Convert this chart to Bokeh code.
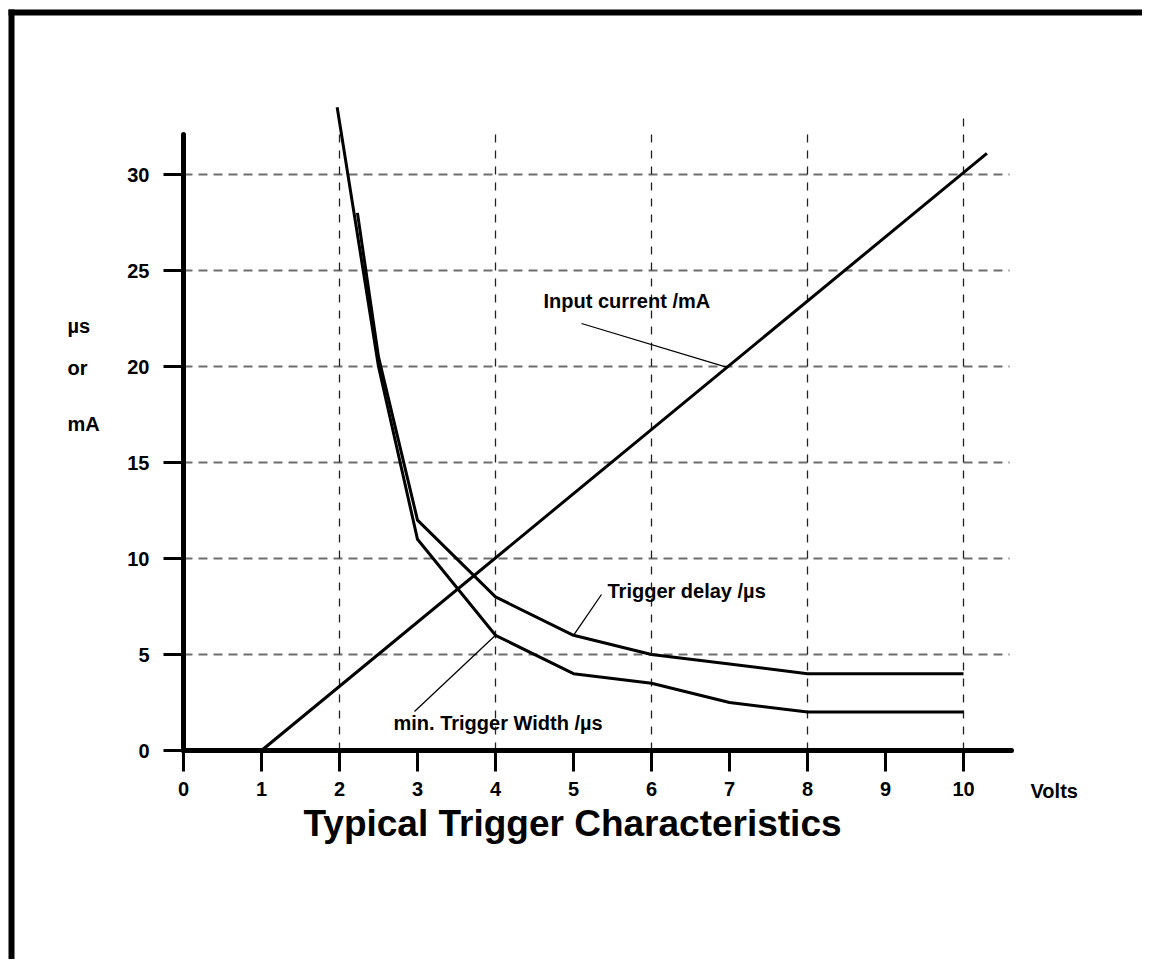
from bokeh.plotting import figure
from bokeh.models import Range1d, FixedTicker, Label
from bokeh.embed import file_html
from bokeh.resources import INLINE

# ---------------- data ----------------
volts_ticks = [0, 1, 2, 3, 4, 5, 6, 7, 8, 9, 10]
y_ticks = [0, 5, 10, 15, 20, 25, 30]

input_current_v = [1.0, 10.3]
input_current_ma = [0.0, 31.1]

trigger_delay_v = [2.23, 2.5, 3, 4, 5, 6, 7, 8, 10]
trigger_delay_us = [28.0, 20.5, 12.0, 8.0, 6.0, 5.0, 4.5, 4.0, 4.0]

min_width_v = [1.97, 2.5, 3, 4, 5, 6, 7, 8, 10]
min_width_us = [33.5, 20.0, 11.0, 6.0, 4.0, 3.5, 2.5, 2.0, 2.0]

vgrid_x = [2, 4, 6, 8, 10]
vgrid_top = [32.1, 32.1, 32.1, 32.1, 33.0]
hgrid_y = [5, 10, 15, 20, 25, 30]
hgrid_right = 10.59

series_labels = ["Input current /mA", "Trigger delay /µs", "min. Trigger Width /µs"]
y_title_lines = ["µs", "or", "mA"]
x_title = "Volts"
chart_title = "Typical Trigger Characteristics"

FONT = "Liberation Sans"

# ---------------- layout helpers (pixel -> data) ----------------
W, H = 1142, 959
X0_PX, PX_PER_X = 183.0, 78.0
Y0_PX, PX_PER_Y = 750.0, 19.2


def dx(px):
    return (px - X0_PX) / PX_PER_X


def dy(py):
    return (Y0_PX - py) / PX_PER_Y


p = figure(width=W, height=H, title=None,
           x_range=Range1d(dx(0), dx(W)), y_range=Range1d(dy(H), dy(0)),
           output_backend="svg", toolbar_location=None,
           min_border_left=0, min_border_right=0,
           min_border_top=0, min_border_bottom=0)
p.outline_line_color = None
p.background_fill_color = "white"
p.border_fill_color = "white"

# page frame (thick left and top border)
p.segment(x0=[dx(11), dx(8)], y0=[dy(9), dy(12)], x1=[dx(11), dx(W)], y1=[dy(H), dy(12)],
          line_color="black", line_width=6, line_cap="butt")

# axes placed at the data origin
for ax in (p.xaxis[0], p.yaxis[0]):
    ax.fixed_location = 0
    ax.axis_line_width = 5
    ax.axis_line_color = "black"
    ax.axis_line_cap = "round"
    ax.major_tick_line_width = 3
    ax.major_tick_line_color = "black"
    ax.major_tick_in = 0
    ax.minor_tick_line_color = None
    ax.major_label_text_font = FONT
    ax.major_label_text_font_style = "bold"
    ax.major_label_text_font_size = "20px"
    ax.major_label_text_color = "black"

p.xaxis[0].ticker = FixedTicker(ticks=volts_ticks)
p.xaxis[0].bounds = (0, 10.62)
p.xaxis[0].major_tick_out = 21
p.xaxis[0].major_label_standoff = 10

p.yaxis[0].ticker = FixedTicker(ticks=y_ticks)
p.yaxis[0].bounds = (0, 32.1)
p.yaxis[0].major_tick_out = 20
p.yaxis[0].major_label_standoff = 14

# grids
p.xgrid.visible = False
p.ygrid.visible = False
p.segment(x0=[0] * len(hgrid_y), y0=hgrid_y, x1=[hgrid_right] * len(hgrid_y), y1=hgrid_y,
          line_color="#6e6e6e", line_width=2, line_dash="9 6")
p.segment(x0=vgrid_x, y0=[0] * len(vgrid_x), x1=vgrid_x, y1=vgrid_top,
          line_color="#222222", line_width=1.3, line_dash="8 8")

# curves
p.line(input_current_v, input_current_ma, line_color="black", line_width=3)
p.line(trigger_delay_v, trigger_delay_us, line_color="black", line_width=3, line_join="round")
p.line(min_width_v, min_width_us, line_color="black", line_width=3, line_join="round")

# leader lines (label -> curve point)
p.segment(x0=[dx(581), dx(601), dx(414)], y0=[dy(323), dy(594), dy(711)],
          x1=[6.97, 5.0, 4.0], y1=[19.95, 6.0, 6.0],
          line_color="black", line_width=1.3)


def add_text(txt, px, py, size="20px", align="left"):
    p.add_layout(Label(x=dx(px), y=dy(py), text=txt, text_font=FONT,
                       text_font_style="bold", text_font_size=size,
                       text_align=align, text_baseline="alphabetic",
                       text_color="black"))


# series labels (left edge, baseline in pixels)
for txt, (lx, ly) in zip(series_labels, [(543, 300), (607, 590), (393, 722)]):
    add_text(txt, lx, ly)

# y-axis title lines
for txt, ly in zip(y_title_lines, [325, 367, 423]):
    add_text(txt, 67, ly)

add_text(x_title, 1030, 790)
add_text(chart_title, 572, 823, size="37px", align="center")

open("out.html", "w").write(file_html(p, INLINE))
